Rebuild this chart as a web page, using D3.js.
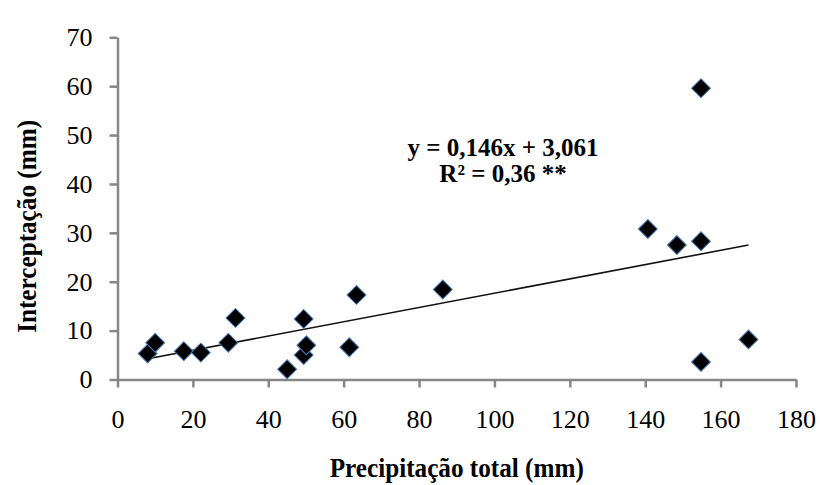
<!DOCTYPE html>
<html>
<head>
<meta charset="utf-8">
<script src="https://cdn.jsdelivr.net/npm/d3@7"></script>
<style>
  html, body { margin: 0; padding: 0; background: #fff; }
  svg { display: block; }
  text { font-family: "Liberation Serif", "Times New Roman", serif; fill: #000; }
</style>
</head>
<body>
<svg id="chart" width="820" height="485"></svg>
<script>
// Total precipitation (mm) vs canopy interception (mm), one point per event
const precipitation = [8, 10, 17.6, 22.1, 29.4, 31.3, 45, 49.4, 49.4, 50.1, 61.5, 63.4, 86.3, 140.7, 148.4, 154.8, 154.8, 154.8, 167.4];
const interception = [5.3, 7.5, 5.8, 5.5, 7.5, 12.6, 2.1, 12.4, 5.0, 7.0, 6.6, 17.3, 18.4, 30.8, 27.5, 28.3, 59.6, 3.6, 8.2];

// Fitted linear model
const slope = 0.146;
const intercept = 3.061;
const equationLines = ["y = 0,146x + 3,061", "R\u00B2 = 0,36 **"];

const xTicks = [0, 20, 40, 60, 80, 100, 120, 140, 160, 180];
const yTicks = [0, 10, 20, 30, 40, 50, 60, 70];
const xTitle = "Precipitação total (mm)";
const yTitle = "Interceptação (mm)";

const svg = d3.select("#chart");
const axisColor = "#868686";
const squeeze = "scale(0.9,1)";

const x = d3.scaleLinear().domain([0, 180]).range([117.5, 796]);
const y = d3.scaleLinear().domain([0, 70]).range([379.5, 37.3]);

// Axes
const gx = svg.append("g")
  .attr("transform", `translate(0,${y(0)})`)
  .call(d3.axisBottom(x).tickValues(xTicks).tickSize(8).tickSizeOuter(0).tickPadding(22)
    .tickFormat(d3.format("d")));
const gy = svg.append("g")
  .attr("transform", `translate(${x(0)},0)`)
  .call(d3.axisLeft(y).tickValues(yTicks).tickSize(8).tickSizeOuter(0).tickPadding(17)
    .tickFormat(d3.format("d")));

[gx, gy].forEach(g => {
  g.select(".domain").attr("stroke", axisColor).attr("stroke-width", 2.5);
  g.selectAll(".tick line").attr("stroke", axisColor).attr("stroke-width", 2.5);
  g.selectAll(".tick text")
    .attr("font-family", "Liberation Serif")
    .attr("font-size", 26)
    .attr("fill", "#000");
});

// Regression line over the observed range
const xMin = d3.min(precipitation), xMax = d3.max(precipitation);
svg.append("line")
  .attr("x1", x(xMin)).attr("y1", y(slope * xMin + intercept))
  .attr("x2", x(xMax)).attr("y2", y(slope * xMax + intercept))
  .attr("stroke", "#111").attr("stroke-width", 1.6);

// Diamond markers
const diamond = d3.symbol().type(d3.symbolSquare).size(180);
svg.append("g").selectAll("path")
  .data(d3.zip(precipitation, interception))
  .join("path")
  .attr("d", diamond)
  .attr("transform", d => `translate(${x(d[0])},${y(d[1])}) rotate(45)`)
  .attr("fill", "#000")
  .attr("stroke", "#4a7ebb")
  .attr("stroke-width", 1);

// Equation annotation
svg.append("g").attr("transform", "translate(503,0)")
  .selectAll("text")
  .data(equationLines)
  .join("text")
  .attr("y", (d, i) => 156 + i * 26)
  .attr("text-anchor", "middle")
  .attr("font-size", 25)
  .attr("font-weight", "bold")
  .text(d => d);

// Axis titles
svg.append("text")
  .attr("transform", `translate(${(x(0) + x(180)) / 2},477) ${squeeze}`)
  .attr("text-anchor", "middle")
  .attr("font-size", 28)
  .attr("font-weight", "bold")
  .text(xTitle);

svg.append("text")
  .attr("transform", `translate(36,${(y(0) + y(70)) / 2 + 18}) rotate(-90) ${squeeze}`)
  .attr("text-anchor", "middle")
  .attr("font-size", 28)
  .attr("font-weight", "bold")
  .text(yTitle);
</script>
</body>
</html>
